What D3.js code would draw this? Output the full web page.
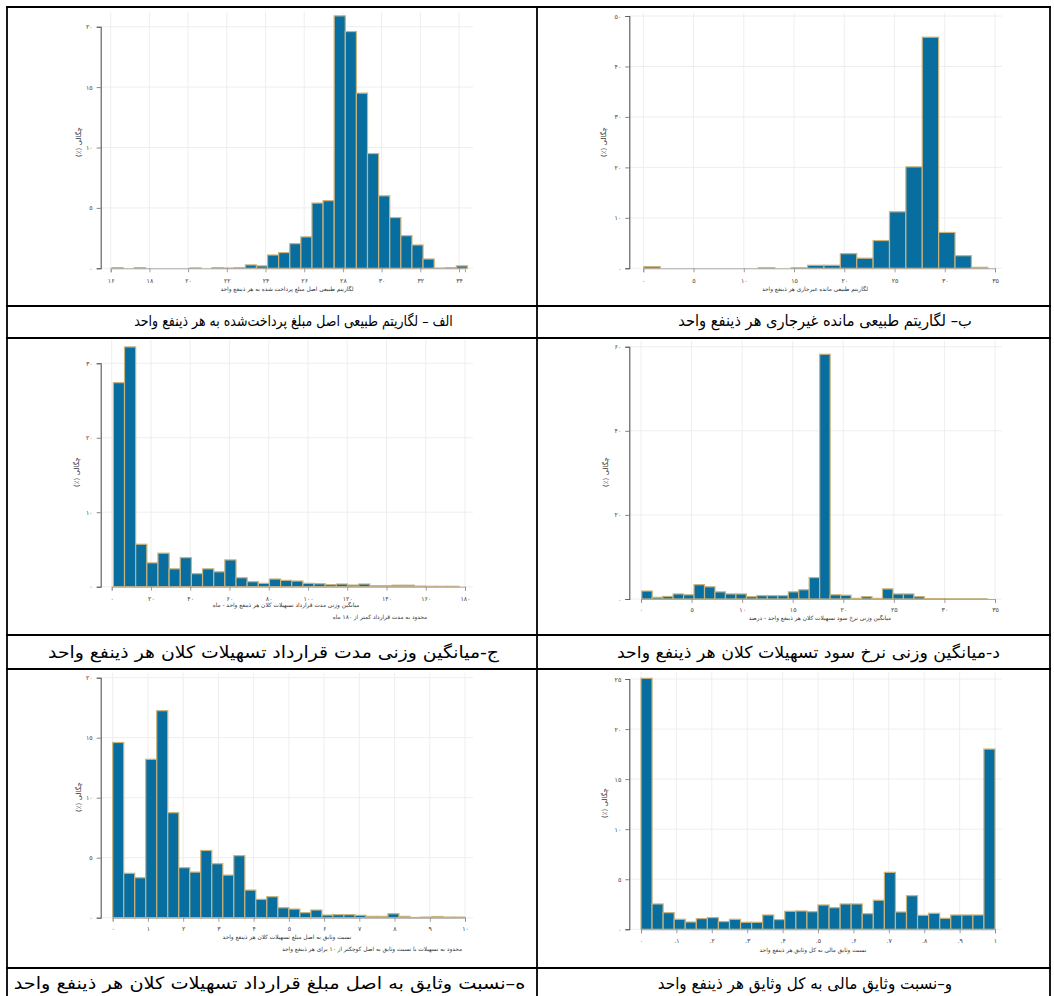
<!DOCTYPE html>
<html><head><meta charset="utf-8">
<script src="https://cdn.jsdelivr.net/npm/d3@7"></script>
<style>body{margin:0;background:#fff}svg{display:block}</style>
</head><body>
<svg id="c" width="1054" height="996"></svg>
<script>
// ---------------- DATA ----------------
// Panel الف : log principal
const densA = [0.05,0,0.05,0,0,0,0,0.03,0,0.05,0.02,0.05,0.28,0.2,1.1,1.3,2.04,2.6,5.4,5.6,20.9,19.6,14.5,9.5,6.0,4.2,2.7,1.93,0.77,0.02,0.05,0.2];
const binStartA = 16.07, binWidthA = 0.574;
const xTicksA = [16,18,20,22,24,26,28,30,32,34];
const yTicksA = [0,5,10,15,20];
// Panel ب : log non-current balance
const densB = [0.33,0,0,0,0,0,0,0.1,0,0.1,0.6,0.6,2.9,2.0,5.5,11.2,20.1,45.8,7.1,2.5,0.2];
const binStartB = 0.05, binWidthB = 1.63;
const xTicksB = [0,5,10,15,20,25,30,35];
const yTicksB = [0,10,20,30,40,50];
// Panel ج : contract duration (months)
const densC = [27.4,32.2,5.7,3.2,4.5,2.4,3.9,1.75,2.4,2.0,3.6,1.2,0.67,0.45,1.03,0.85,0.76,0.45,0.4,0.27,0.36,0.22,0.36,0.13,0.13,0.2,0.2,0.08,0.05,0.05,0.05];
const binStartC = 0.85, binWidthC = 5.68;
const xTicksC = [0,20,40,60,80,100,120,140,160,180];
const yTicksC = [0,10,20,30];
// Panel د : interest rate (percent)
const densD = [1.9,0.4,0.6,1.2,1.0,3.4,2.9,1.7,1.2,1.2,0.55,0.8,0.8,0.8,1.7,2.2,5.1,58.2,1.0,0.9,0.15,0.55,0.15,2.4,1.2,1.2,0.55,0.1,0.1,0.05,0.05,0.05,0.05];
const binStartD = 0.07, binWidthD = 1.035;
const xTicksD = [0,5,10,15,20,25,30,35];
const yTicksD = [0,20,40,60];
// Panel ه : collateral / principal
const densE = [14.6,3.7,3.33,13.2,17.25,8.75,4.17,3.8,5.6,4.5,3.55,5.17,2.3,1.53,1.75,0.83,0.72,0.42,0.64,0.22,0.25,0.25,0.2,0.11,0.11,0.33,0.11,0.02,0.05,0.1,0.05,0.05];
const binStartE = 0, binWidthE = 0.3125;
const xTicksE = [0,1,2,3,4,5,6,7,8,9,10];
const yTicksE = [0,5,10,15,20];
// Panel و : financial collateral share
const densF = [25.07,2.53,1.66,1.0,0.73,1.07,1.17,0.77,1.0,0.7,0.7,1.43,0.97,1.8,1.83,1.76,2.43,2.16,2.53,2.53,1.56,2.9,5.69,1.73,3.36,1.4,1.6,1.1,1.43,1.43,1.43,18.0];
const binStartF = 0, binWidthF = 0.03125;
const xTicksF = [0,0.1,0.2,0.3,0.4,0.5,0.6,0.7,0.8,0.9,1];
const xTickLabelsF = ["۰",".۱",".۲",".۳",".۴",".۵",".۶",".۷",".۸",".۹","۱"];
const yTicksF = [0,5,10,15,20,25];

const yTitle = "چگالی (٪)";
const xTitles = [
  "لگاریتم طبیعی اصل مبلغ پرداخت شده به هر ذینفع واحد",
  "لگاریتم طبیعی مانده غیرجاری هر ذینفع واحد",
  "میانگین وزنی مدت قرارداد تسهیلات کلان هر ذینفع واحد - ماه",
  "میانگین وزنی نرخ سود تسهیلات کلان هر ذینفع واحد - درصد",
  "نسبت وثایق به اصل مبلغ تسهیلات کلان هر ذینفع واحد",
  "نسبت وثایق مالی به کل وثایق هر ذینفع واحد"
];
const notes = [null,null,"محدود به مدت قرارداد کمتر از ۱۸۰ ماه",null,
  "محدود به تسهیلات با نسبت وثایق به اصل کوچکتر از ۱۰ برای هر ذینفع واحد",null];
const captions = [
  "الف – لگاریتم طبیعی اصل مبلغ پرداخت‌شده به هر ذینفع واحد",
  "ب– لگاریتم طبیعی مانده غیرجاری هر ذینفع واحد",
  "ج-میانگین وزنی مدت قرارداد تسهیلات کلان هر ذینفع واحد",
  "د-میانگین وزنی نرخ سود تسهیلات کلان هر ذینفع واحد",
  "ه–نسبت وثایق به اصل مبلغ قرارداد تسهیلات کلان هر ذینفع واحد",
  "و–نسبت وثایق مالی به کل وثایق هر ذینفع واحد"
];

// ---------------- LAYOUT ----------------
const fa = s => String(s).replace(/\d/g, d => "۰۱۲۳۴۵۶۷۸۹"[+d]);
const panels = [
  {dens:densA, start:binStartA, w:binWidthA, xt:xTicksA, yt:yTicksA, xd:[16,34.31],
   left:100.7, y0:268.3, yTop:26.7, xr:[110.7,465], gridTop:12, gridRight:473, tickY:281, titleY:289, titleX:287, yTX:79, yTY:142},
  {dens:densB, start:binStartB, w:binWidthB, xt:xTicksB, yt:yTicksB, xd:[0,35],
   left:629.3, y0:268.3, yTop:16, xr:[643.3,995], gridTop:13, gridRight:1002, tickY:281, titleY:289, titleX:815, yTX:604, yTY:142},
  {dens:densC, start:binStartC, w:binWidthC, xt:xTicksC, yt:yTicksC, xd:[0,180],
   left:100.7, y0:586.7, yTop:363.3, xr:[111.7,465], gridTop:340, gridRight:473, tickY:598.5, titleY:605, titleX:286, yTX:77, yTY:472, noteX:380, noteY:617},
  {dens:densD, start:binStartD, w:binWidthD, xt:xTicksD, yt:yTicksD, xd:[0,35],
   left:629.3, y0:599, yTop:346.7, xr:[641,995], gridTop:341, gridRight:1002, tickY:610, titleY:618, titleX:820, yTX:606, yTY:472},
  {dens:densE, start:binStartE, w:binWidthE, xt:xTicksE, yt:yTicksE, xd:[0,10],
   left:100.7, y0:917.7, yTop:677.7, xr:[112.7,465], gridTop:673, gridRight:473, tickY:929, titleY:937, titleX:287, yTX:79, yTY:797, noteX:372, noteY:949},
  {dens:densF, start:binStartF, w:binWidthF, xt:xTicksF, yt:yTicksF, xd:[0,1], xl:xTickLabelsF,
   left:629.3, y0:929.3, yTop:679, xr:[641,995], gridTop:672, gridRight:1002, tickY:941, titleY:950, titleX:813, yTX:605, yTY:803}
];
// caption centre x, centre y, width factor relative to 16px DejaVu
const capPos = [[293.5,321,0.784],[825,321,0.915],[273.5,652,1.177],[808.5,652,1.085],[269.5,983,1.206],[805,983,0.948]];
const FONT = "DejaVu Sans";
const svg = d3.select("#c");
svg.append("rect").attr("width",1054).attr("height",996).attr("fill","#fff");

panels.forEach((p, k) => {
  const g = svg.append("g");
  const x = d3.scaleLinear().domain(p.xd).range(p.xr);
  const ymax = p.yt[p.yt.length-1];
  const y = d3.scaleLinear().domain([0, ymax]).range([p.y0, p.yTop]);
  g.selectAll(".vg").data(p.xt).join("line")
    .attr("x1", d=>x(d)).attr("x2", d=>x(d)).attr("y1", p.gridTop).attr("y2", p.y0)
    .attr("stroke","#ececec").attr("stroke-width",0.9);
  g.selectAll(".hg").data(p.yt).join("line")
    .attr("x1", p.left).attr("x2", p.gridRight).attr("y1", d=>y(d)).attr("y2", d=>y(d))
    .attr("stroke","#ececec").attr("stroke-width",0.9);
  g.selectAll(".bar").data(p.dens).join("rect")
    .attr("x", (d,i)=>x(p.start+i*p.w))
    .attr("width", (d,i)=>x(p.start+(i+1)*p.w)-x(p.start+i*p.w))
    .attr("y", d=>y(d)).attr("height", d=>p.y0-y(d))
    .attr("fill","#086ea0").attr("stroke","#c9b27c").attr("stroke-width",1.2)
    .attr("display", d=> d>0 ? null : "none");
  const xa = g.append("g").attr("transform",`translate(0,${p.y0})`)
    .call(d3.axisBottom(x).tickValues(p.xt).tickSizeOuter(0).tickSize(4)
      .tickFormat((d,i)=> p.xl ? p.xl[i] : fa(d)));
  xa.select(".domain").attr("stroke","#aaa").attr("stroke-width",1);
  xa.selectAll(".tick line").attr("stroke","#888").attr("stroke-width",0.8);
  xa.selectAll(".tick text").attr("y", p.tickY - p.y0).attr("dy","0.35em")
    .attr("font-family",FONT).attr("font-size",6.3).attr("fill","#444");
  const ya = g.append("g").attr("transform",`translate(${p.left},0)`)
    .call(d3.axisLeft(y).tickValues(p.yt).tickSizeOuter(0).tickSize(4).tickPadding(4).tickFormat(d=>fa(d)));
  ya.select(".domain").attr("stroke","#555").attr("stroke-width",1.1);
  ya.selectAll(".tick line").attr("stroke","#666").attr("stroke-width",0.8);
  ya.selectAll(".tick text").attr("font-family",FONT).attr("font-size",6.3).attr("fill","#444");
  g.append("text").attr("x",p.titleX).attr("y",p.titleY).attr("dy","0.35em")
    .attr("text-anchor","middle").attr("direction","rtl")
    .attr("font-family",FONT).attr("font-size",5.8).attr("fill","#333").text(xTitles[k]);
  if (notes[k]) g.append("text").attr("x",p.noteX).attr("y",p.noteY).attr("dy","0.35em")
    .attr("text-anchor","middle").attr("direction","rtl")
    .attr("font-family",FONT).attr("font-size",5.8).attr("fill","#333").text(notes[k]);
  g.append("text").attr("transform",`translate(${p.yTX},${p.yTY}) rotate(-90)`)
    .attr("dy","0.35em").attr("text-anchor","middle").attr("direction","rtl")
    .attr("font-family",FONT).attr("font-size",7).attr("fill","#333").text(yTitle);
});

// table borders
const vLines = [7,537,1050], hLines = [7,306,338,635,669,968];
svg.selectAll(".vl").data(vLines).join("line")
  .attr("x1",d=>d).attr("x2",d=>d).attr("y1",6).attr("y2",1000)
  .attr("stroke","#000").attr("stroke-width",1.8);
svg.selectAll(".hl").data(hLines).join("line")
  .attr("x1",6).attr("x2",1051).attr("y1",d=>d).attr("y2",d=>d)
  .attr("stroke","#000").attr("stroke-width",1.8);
// captions
svg.selectAll(".cap").data(captions).join("text")
  .attr("x",(d,i)=>capPos[i][0]).attr("y",(d,i)=>capPos[i][1]).attr("dy","0.35em")
  .attr("text-anchor","middle").attr("direction","rtl")
  .attr("font-family",FONT).attr("font-size",16).attr("fill","#000").text(d=>d)
  .each(function(d,i){
    const w16 = this.getComputedTextLength();
    const f = capPos[i][2];
    d3.select(this).attr("font-size", 16*Math.pow(f,0.3))
      .attr("textLength", w16*f).attr("lengthAdjust","spacingAndGlyphs");
  });
</script>
</body></html>
